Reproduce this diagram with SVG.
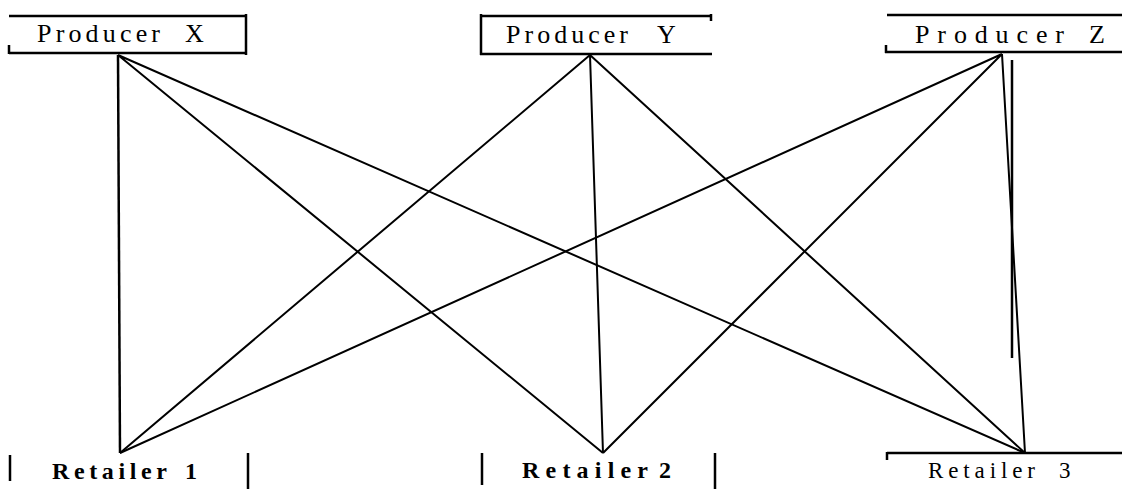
<svg xmlns="http://www.w3.org/2000/svg" width="1122" height="489" viewBox="0 0 1122 489">
<style>
.b{stroke:#000;stroke-width:2.5;fill:none}
.c{stroke:#000;stroke-width:2;fill:none}
.t{font-family:"Liberation Serif",serif;font-size:26px;fill:#000}
.r{font-family:"Liberation Serif",serif;font-size:24px;font-weight:bold;fill:#000}
.s{font-family:"Liberation Serif",serif;font-size:23px;fill:#000}
</style>
<rect width="1122" height="489" fill="#fff"/>
<g id="producer-x">
<path class="b" d="M9 16H247M246 14V55M9 53H247M9 45V54"/>
<text class="t" x="37" y="42" textLength="123" lengthAdjust="spacing">Producer</text>
<text class="t" x="185" y="42">X</text>
</g>
<g id="producer-y">
<path class="b" d="M480 16H712M481 14V55M711 14V21M480 54H712"/>
<text class="t" x="506" y="43" textLength="122" lengthAdjust="spacing">Producer</text>
<text class="t" x="657" y="43">Y</text>
</g>
<g id="producer-z">
<path class="b" d="M887 15H1122M885 52H1122M886 45V53"/>
<text class="t" x="915" y="43" textLength="149" lengthAdjust="spacing">Producer</text>
<text class="t" x="1089" y="43">Z</text>
</g>
<g id="retailer-1">
<path class="b" d="M10 455V481M248 453V489"/>
<text class="r" x="52" y="479" textLength="115" lengthAdjust="spacing">Retailer</text>
<text class="r" x="185" y="479">1</text>
</g>
<g id="retailer-2">
<path class="b" d="M482 453V485M715 453V489"/>
<text class="r" x="522" y="478" textLength="126" lengthAdjust="spacing">Retailer</text>
<text class="r" x="659" y="478">2</text>
</g>
<g id="retailer-3">
<path class="b" d="M887 453H1122M887 452V460"/>
<text class="s" x="928" y="478" textLength="107" lengthAdjust="spacing">Retailer</text>
<text class="s" x="1059" y="478">3</text>
</g>
<g id="connectors">
<path class="b" d="M118 55L120 453" stroke-width="3"/>
<path class="c" d="M118 55L603 453M118 55L1025 453"/>
<path class="c" d="M590 55L120 453M590 55L603 453M590 55L1025 453"/>
<path class="c" d="M1002 54L120 453M1002 54L603 453M1002 54L1025 453"/>
<path class="b" d="M1012 60V358" stroke-width="3"/>
</g>
</svg>
